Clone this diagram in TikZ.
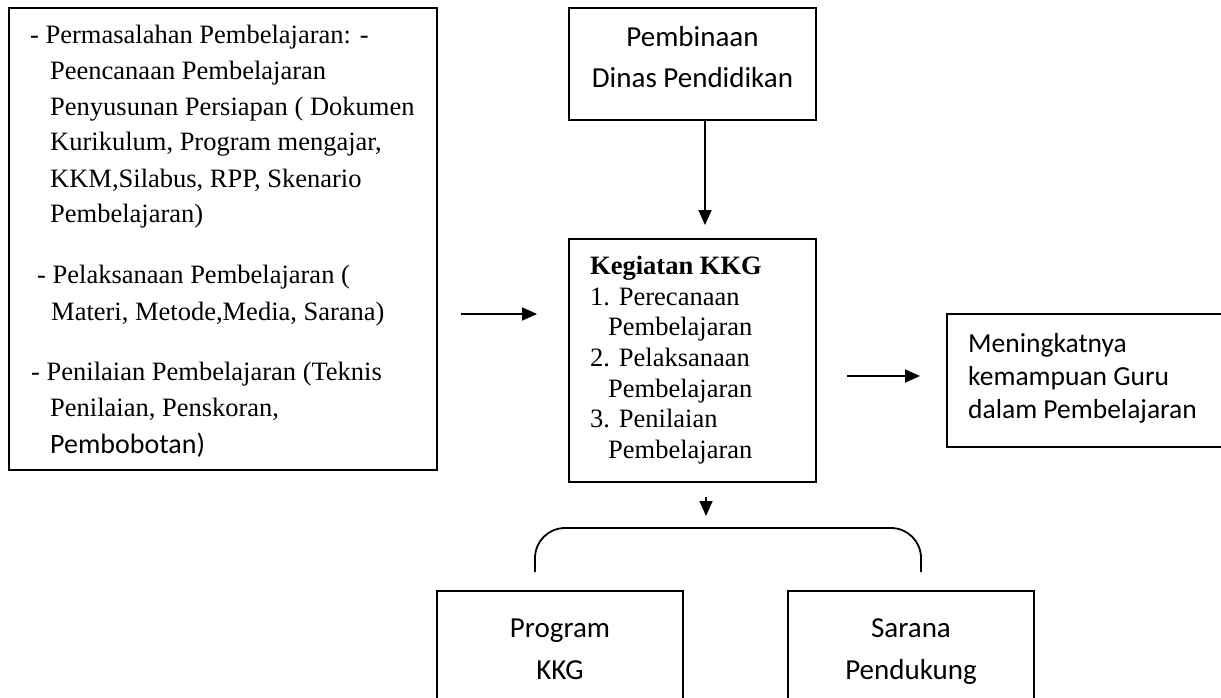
\documentclass[tikz,border=0pt]{standalone}
\usepackage{fontspec}
\setmainfont{Liberation Serif}
\newfontfamily\carl{Carlito}
\usetikzlibrary{arrows.meta}
\tikzset{
  box/.style={draw, line width=1.8pt, rectangle, inner sep=0pt},
  tr/.style={inner sep=0pt, anchor=base west, font=\fontsize{26.5}{30}\selectfont},
  cb/.style={inner sep=0pt, anchor=base, font=\carl\fontsize{29}{32}\selectfont},
  cw/.style={inner sep=0pt, anchor=base west, font=\carl\fontsize{27.5}{32}\selectfont},
  arr/.style={line width=1.8pt, -{Triangle[length=15pt,width=13pt]}},
  brk/.style={line width=1.8pt, rounded corners=30pt}
}
\begin{document}
\begin{tikzpicture}[x=1pt,y=-1pt]
\useasboundingbox (0,0) rectangle (1221,698);
% boxes
\node[box, minimum width=428pt, minimum height=462pt] (left) at (223,239) {};
\node[box, minimum width=247pt, minimum height=112pt] (top) at (692.5,64) {};
\node[box, minimum width=247pt, minimum height=243pt] (kkg) at (692.5,360.5) {};
\node[box, minimum width=283pt, minimum height=133pt] (res) at (1088.5,380.5) {};
\node[box, minimum width=246pt, minimum height=119pt] (prog) at (560,650.5) {};
\node[box, minimum width=246pt, minimum height=119pt] (sar) at (911,650.5) {};
% left box text
\node[tr] (l1) at (30,44) {- Permasalahan Pembelajaran: -};
\node[tr] (l2) at (50,80) {Peencanaan Pembelajaran};
\node[tr] (l3) at (50,115.5) {Penyusunan Persiapan ( Dokumen};
\node[tr] (l4) at (50,151) {Kurikulum, Program mengajar,};
\node[tr] (l5) at (50,187) {KKM,Silabus, RPP, Skenario};
\node[tr] (l6) at (50,222.5) {Pembelajaran)};
\node[tr] (l7) at (37,283) {- Pelaksanaan Pembelajaran (};
\node[tr] (l8) at (51,320) {Materi, Metode,Media, Sarana)};
\node[tr] (l9) at (31,380) {- Penilaian Pembelajaran (Teknis};
\node[tr] (l10) at (50,416) {Penilaian, Penskoran,};
\node[cw, font=\carl\fontsize{28}{32}\selectfont] (l11) at (50,453) {Pembobotan)};
% top box text
\node[cb] (t1) at (692.5,47) {Pembinaan};
\node[cb] (t2) at (692.5,88) {Dinas Pendidikan};
% kkg box text
\node[tr, font=\bfseries\fontsize{26.5}{30}\selectfont] (k0) at (590,274) {Kegiatan KKG};
\node[tr] (k1) at (590,305) {1. Perecanaan};
\node[tr] (k2) at (608,335.5) {Pembelajaran};
\node[tr] (k3) at (590,366.5) {2. Pelaksanaan};
\node[tr] (k4) at (608,397) {Pembelajaran};
\node[tr] (k5) at (590,427.5) {3. Penilaian};
\node[tr] (k6) at (608,458) {Pembelajaran};
% result box text
\node[cw] (r1) at (968,352) {Meningkatnya};
\node[cw] (r2) at (968,385) {kemampuan Guru};
\node[cw] (r3) at (968,418) {dalam Pembelajaran};
% bottom boxes text
\node[cb] (p1) at (560,637) {Program};
\node[cb] (p2) at (560,679) {KKG};
\node[cb] (s1) at (911,637) {Sarana};
\node[cb] (s2) at (911,679) {Pendukung};
% connectors
\coordinate (la0) at (461,314);
\coordinate (la1) at (537,314);
\coordinate (ta1) at (705,225);
\coordinate (ra0) at (847,376);
\coordinate (ra1) at (920,376);
\coordinate (da0) at (706,497);
\coordinate (da1) at (706,516);
\coordinate (bl) at (535,572);
\coordinate (br) at (921,572);
\coordinate (bt) at (728,528);
\draw[arr] (la0) -- (la1);
\draw[arr] (top.south -| ta1) -- (ta1);
\draw[arr] (ra0) -- (ra1);
\draw[arr] (da0) -- (da1);
\draw[brk] (bl) -- (bl |- bt) -- (br |- bt) -- (br);
\end{tikzpicture}
\end{document}
